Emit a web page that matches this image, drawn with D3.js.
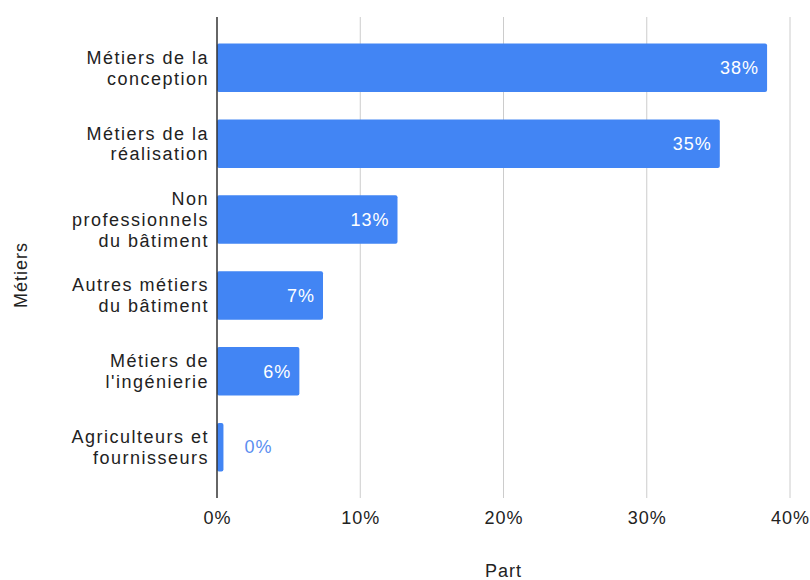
<!DOCTYPE html>
<html>
<head>
<meta charset="utf-8">
<script src="https://cdn.jsdelivr.net/npm/d3@7"></script>
<style>
  body { margin: 0; background: #fff; }
  text { font-family: "Liberation Sans", Arial, sans-serif; letter-spacing: 1px; }
  text.cat { letter-spacing: 1.5px; }
</style>
</head>
<body>
<script>
// data
var categories = [
  ["Métiers de la", "conception"],
  ["Métiers de la", "réalisation"],
  ["Non", "professionnels", "du bâtiment"],
  ["Autres métiers", "du bâtiment"],
  ["Métiers de", "l'ingénierie"],
  ["Agriculteurs et", "fournisseurs"]
];
var values = [38.4, 35.1, 12.6, 7.4, 5.75, 0.45];
var xTicks = [0, 10, 20, 30, 40];

// margin
var margin = {top: 17, right: 20, bottom: 82, left: 217},
    totalW = 810, totalH = 580,
    width = totalW - margin.left - margin.right,
    height = totalH - margin.top - margin.bottom;

var svg = d3.select("body").append("svg")
    .attr("width", totalW)
    .attr("height", totalH);

var g = svg.append("g")
    .attr("transform", "translate(" + margin.left + "," + margin.top + ")");

var x = d3.scaleLinear().domain([0, 40]).range([0, 573]);
var y = d3.scaleBand()
    .domain(d3.range(categories.length))
    .range([0, height])
    .paddingInner(0.36)
    .paddingOuter(0.35);

// gridlines
g.selectAll(".grid")
    .data(xTicks.slice(1))
  .enter().append("line")
    .attr("x1", function(d) { return x(d); })
    .attr("x2", function(d) { return x(d); })
    .attr("y1", 0)
    .attr("y2", height)
    .attr("stroke", "#cccccc")
    .attr("stroke-width", 1);

// x axis labels
var xAxis = d3.axisBottom(x)
    .tickValues(xTicks)
    .tickSize(0)
    .tickPadding(13)
    .tickFormat(function(d) { return d + "%"; });

g.append("g")
    .attr("transform", "translate(0," + height + ")")
    .call(xAxis)
    .call(function(s) { s.select(".domain").remove(); })
    .selectAll("text")
      .attr("font-size", 18)
      .attr("fill", "#222")
      .style("font-family", "'Liberation Sans', Arial, sans-serif");

// bars
g.selectAll(".bar")
    .data(values)
  .enter().append("rect")
    .attr("x", 0)
    .attr("y", function(d, i) { return y(i); })
    .attr("width", function(d) { return x(d); })
    .attr("height", y.bandwidth())
    .attr("rx", 2)
    .attr("fill", "#4285f4");

// value labels
g.selectAll(".val")
    .data(values)
  .enter().append("text")
    .attr("x", function(d) { return x(d) > 60 ? x(d) - 8 : x(d) + 21; })
    .attr("y", function(d, i) { return y(i) + y.bandwidth() / 2; })
    .attr("dy", "0.35em")
    .attr("text-anchor", function(d) { return x(d) > 60 ? "end" : "start"; })
    .attr("font-size", 18)
    .attr("fill", function(d) { return x(d) > 60 ? "#ffffff" : "#5b8ef0"; })
    .text(function(d) { return Math.round(d) + "%"; });

// zero line
g.append("line")
    .attr("x1", 0).attr("x2", 0)
    .attr("y1", 0).attr("y2", height)
    .attr("stroke", "#333")
    .attr("stroke-width", 1.5);

// category labels
var lineH = 21;
var cat = g.selectAll(".cat")
    .data(categories)
  .enter().append("text")
    .attr("class", "cat")
    .attr("text-anchor", "end")
    .attr("font-size", 18)
    .attr("fill", "#222")
    .attr("transform", function(d, i) {
      var cy = y(i) + y.bandwidth() / 2;
      return "translate(-8," + (cy - (d.length - 1) * lineH / 2) + ")";
    });

cat.selectAll("tspan")
    .data(function(d) { return d; })
  .enter().append("tspan")
    .attr("x", 0)
    .attr("y", function(d, i) { return i * lineH; })
    .attr("dy", "0.35em")
    .text(function(d) { return d; });

// axis titles
svg.append("text")
    .attr("x", margin.left + 573 / 2)
    .attr("y", 577)
    .attr("text-anchor", "middle")
    .attr("font-size", 18)
    .attr("fill", "#222")
    .text("Part");

svg.append("text")
    .attr("transform", "translate(27,275) rotate(-90)")
    .attr("text-anchor", "middle")
    .attr("font-size", 18)
    .attr("fill", "#222")
    .text("Métiers");
</script>
</body>
</html>
